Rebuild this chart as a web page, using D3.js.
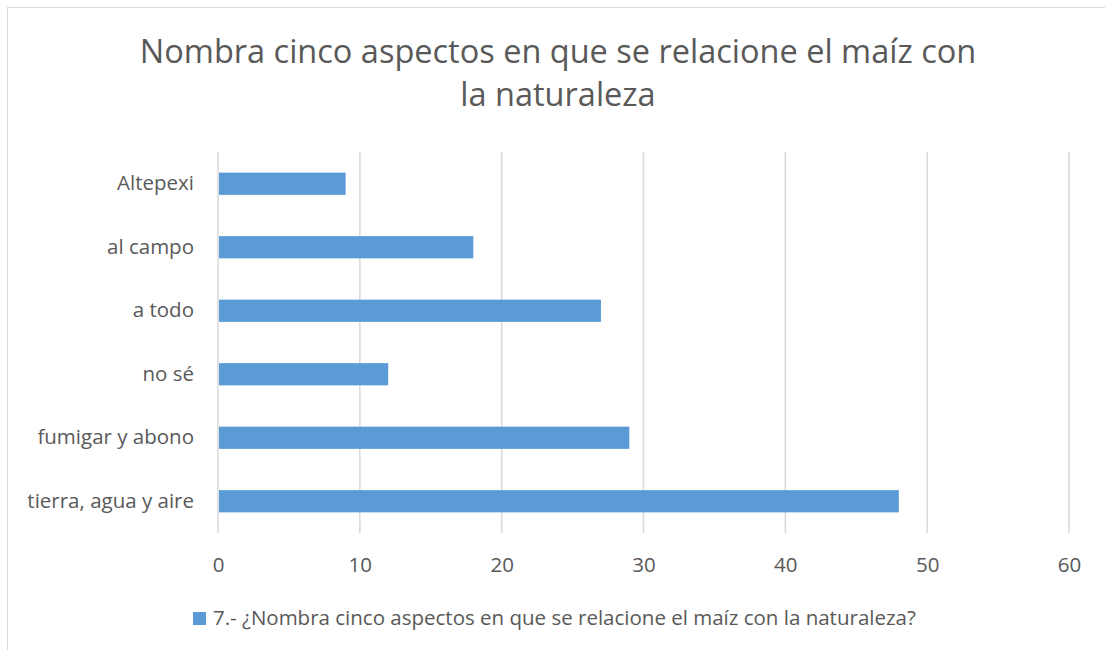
<!DOCTYPE html>
<html>
<head>
<meta charset="utf-8">
<script src="https://cdn.jsdelivr.net/npm/d3@7"></script>
<style>
  body { margin: 0; background: #fff; }
  text { font-family: "Open Sans", sans-serif; fill: #595959; }
</style>
</head>
<body>
<div id="chart"></div>
<script>
// data
var categories = ["Altepexi", "al campo", "a todo", "no sé", "fumigar y abono", "tierra, agua y aire"];
var values = [9, 18, 27, 12, 29, 48];
var xTicks = [0, 10, 20, 30, 40, 50, 60];
var titleLines = ["Nombra cinco aspectos en que se relacione el maíz con", "la naturaleza"];
var seriesName = "7.- ¿Nombra cinco aspectos en que se relacione el maíz con la naturaleza?";

var W = 1105, H = 650;
var margin = { top: 152, right: 36, bottom: 117, left: 218 };
var width = W - margin.left - margin.right,
    height = H - margin.top - margin.bottom;

var svg = d3.select("#chart").append("svg")
    .attr("width", W)
    .attr("height", H);

// chart border
svg.append("rect")
    .attr("x", 7.5).attr("y", 7.5)
    .attr("width", W + 10).attr("height", H + 10)
    .attr("fill", "none")
    .attr("stroke", "#d9d9d9")
    .attr("stroke-width", 1);

// title
svg.append("g").selectAll("text")
    .data(titleLines)
    .enter().append("text")
    .attr("x", 558)
    .attr("y", function(d, i){ return 63 + i * 43; })
    .attr("text-anchor", "middle")
    .style("font-size", "32.5px")
    .text(function(d){ return d; });

var g = svg.append("g")
    .attr("transform", "translate(" + margin.left + "," + margin.top + ")");

// scales
var x = d3.scaleLinear().domain([0, 60]).range([0, width]);
var y = d3.scaleBand().domain(categories).range([0, height]).paddingInner(0.65).paddingOuter(0.325);

// gridlines
g.selectAll("line.grid")
    .data(xTicks)
    .enter().append("line")
    .attr("class", "grid")
    .attr("x1", function(d){ return x(d); })
    .attr("x2", function(d){ return x(d); })
    .attr("y1", 0)
    .attr("y2", height)
    .attr("stroke", "#d9d9d9")
    .attr("stroke-width", 1.5);

// bars
g.selectAll("rect.bar")
    .data(values)
    .enter().append("rect")
    .attr("class", "bar")
    .attr("x", x(0) + 1)
    .attr("y", function(d, i){ return y(categories[i]); })
    .attr("width", function(d){ return x(d) - x(0) - 1; })
    .attr("height", y.bandwidth())
    .attr("fill", "#5b9bd5");

// x axis
var xAxis = d3.axisBottom(x).tickValues(xTicks).tickSize(0).tickPadding(24);
var gX = g.append("g")
    .attr("transform", "translate(0," + height + ")")
    .call(xAxis);
gX.select(".domain").remove();
gX.selectAll("text").style("font-size", "20.5px").attr("fill", "#595959");

// y axis
var yAxis = d3.axisLeft(y).tickSize(0).tickPadding(24);
var gY = g.append("g").call(yAxis);
gY.select(".domain").remove();
gY.selectAll("text").style("font-size", "20.5px").attr("fill", "#595959");

// legend
var legend = svg.append("g").attr("transform", "translate(193,612)");
legend.append("rect")
    .attr("width", 13).attr("height", 13)
    .attr("fill", "#5b9bd5");
legend.append("text")
    .attr("x", 20).attr("y", 13)
    .style("font-size", "20.5px")
    .text(seriesName);
</script>
</body>
</html>
